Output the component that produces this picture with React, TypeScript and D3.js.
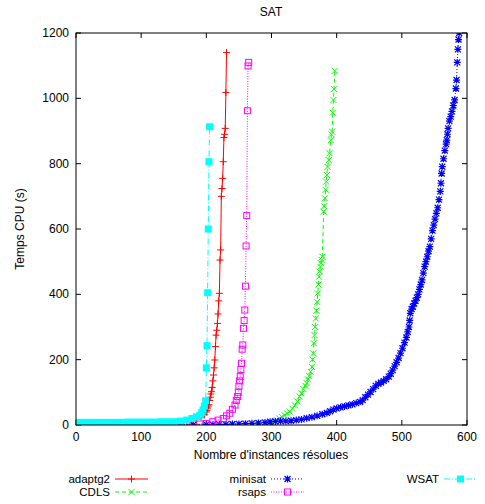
import React from "react";
import * as d3 from "d3";

const title = "SAT";
const xLabel = "Nombre d'instances résolues";
const yLabel = "Temps CPU (s)";
const xTicks = [0, 100, 200, 300, 400, 500, 600];
const yTicks = [0, 200, 400, 600, 800, 1000, 1200];

const adaptg2: [number, number][] = [
  [0, 1], [15, 1], [30, 1.5], [45, 2], [60, 2], [75, 2.5], [90, 3], [105, 3], [120, 3.5], [135, 4],
  [150, 5], [160, 6], [170, 8], [178, 11], [185, 17], [192, 24], [197, 31], [200, 40], [201, 45],
  [202, 52], [203, 58], [204, 62], [205, 75], [206, 85], [207, 95], [208, 102], [209, 115], [210, 135],
  [211, 153], [212, 175], [213, 199], [214, 240], [215, 275], [216, 290], [217, 311], [218, 340],
  [219, 380], [220, 403], [221, 505], [222, 536], [223, 700], [224, 724], [225, 755], [226, 806],
  [227, 880], [228, 890], [229, 908], [230, 1018], [231, 1140],
];

const cdls: [number, number][] = [
  [0, 1], [20, 1], [40, 1], [60, 1], [80, 1], [100, 1], [120, 1], [140, 1], [160, 1], [180, 1.5],
  [200, 2], [220, 2], [240, 2.5], [260, 3], [280, 3.5], [292, 4], [300, 5], [305, 10], [308, 15],
  [312, 20], [316, 25], [320, 30], [324, 35], [328, 41], [332, 50], [336, 60], [340, 72], [343, 87],
  [346, 97], [349, 110], [352, 120], [354, 128], [356, 140], [358, 150], [360, 163], [362, 178],
  [363, 200], [364, 219], [365, 250], [366, 275], [367, 300], [368, 326], [369, 350], [370, 377],
  [371, 403], [372, 430], [373, 454], [374, 470], [375, 484], [376, 495], [377, 505], [378, 515],
  [380, 653], [381, 670], [382, 694], [383, 720], [384, 745], [385, 765], [386, 790], [388, 811],
  [389, 832], [391, 872], [392, 890], [393, 898], [394, 956], [395, 995], [396, 1028], [397, 1084],
];

const minisat: [number, number][] = [
  [0, 0.5], [20, 0.5], [40, 0.5], [60, 0.5], [80, 0.5], [100, 0.5], [120, 0.5], [140, 0.5], [160, 0.5],
  [180, 0.5], [200, 1], [210, 1], [220, 2], [230, 2], [240, 3], [250, 3], [260, 4], [270, 5], [280, 6],
  [290, 8], [298, 10], [306, 11], [314, 12], [322, 12], [330, 13], [338, 15], [346, 17], [354, 21],
  [362, 24], [370, 28], [378, 33], [385, 37], [390, 42], [395, 47], [400, 51], [406, 54], [412, 57],
  [418, 60], [424, 63], [430, 67], [436, 71], [440, 76], [444, 85], [448, 93], [452, 101], [456, 110],
  [460, 120], [464, 126], [468, 130], [472, 135], [476, 140], [480, 148], [483, 157], [486, 168],
  [489, 180], [492, 192], [495, 205], [498, 220], [501, 235], [504, 252], [507, 268], [509, 285],
  [511, 300], [512, 320], [513, 342], [515, 355], [517, 362], [519, 372], [521, 380], [523, 390],
  [525, 400], [527, 415], [529, 430], [531, 444], [533, 465], [535, 485], [537, 500], [539, 515],
  [541, 532], [543, 546], [545, 570], [547, 595], [549, 612], [551, 630], [553, 648], [555, 665],
  [557, 690], [559, 715], [560, 740], [561, 770], [562, 791], [564, 815], [566, 840], [568, 860],
  [569, 872], [570, 890], [571, 908], [573, 930], [575, 944], [577, 960], [579, 978], [581, 995],
  [583, 1030], [584, 1056], [585, 1110], [586, 1150], [587, 1180], [588, 1200], [589, 1215],
];

const rsaps: [number, number][] = [
  [0, 0.1], [15, 0.1], [30, 0.1], [45, 0.1], [60, 0.1], [75, 0.2], [90, 0.2], [105, 0.3], [120, 0.3],
  [135, 0.5], [150, 0.5], [160, 1], [170, 1], [180, 2], [190, 3], [200, 5], [210, 10], [218, 15],
  [226, 20], [231, 28], [236, 36], [240, 48], [244, 61], [246, 75], [248, 87], [249, 100], [250, 119],
  [251, 135], [252, 148], [253, 170], [254, 189], [255, 232], [256, 245], [257, 296], [258, 320],
  [259, 352], [260, 425], [261, 548], [262, 641], [263, 962], [264, 1099], [265, 1110],
];

const wsat: [number, number][] = [
  [0, 8], [10, 8], [20, 8], [30, 8], [40, 8], [50, 8], [60, 8], [70, 8], [80, 9], [90, 9], [100, 9],
  [110, 9], [120, 9], [130, 10], [140, 10], [150, 10], [160, 12], [170, 15], [178, 20], [185, 25],
  [190, 30], [193, 38], [195, 46], [197, 58], [199, 74], [200, 175], [201, 243], [202, 405],
  [203, 600], [204, 806], [205, 913],
];

const seriesNames = ["adaptg2", "CDLS", "minisat", "rsaps", "WSAT"];
const seriesData = [adaptg2, cdls, minisat, rsaps, wsat];
const seriesColors = ["#ff0000", "#00ff00", "#0000ff", "#ff00ff", "#00ffff"];
const seriesDash = ["none", "4,3", "1,2", "1,1.5", "6,2,1,2"];
const seriesMarker = ["plus", "cross", "star", "box", "fbox"];

const W = 485, H = 504;
const m = { left: 76, right: 467, top: 33, bottom: 425 };
const FONT = "'Liberation Sans', Arial, Helvetica, sans-serif";

function Marker({ type, x, y, color }: { type: string; x: number; y: number; color: string }) {
  const s = 3.5;
  if (type === "plus")
    return <path d={`M${x - s},${y}H${x + s}M${x},${y - s}V${y + s}`} stroke={color} strokeWidth={1} fill="none" />;
  if (type === "cross")
    return <path d={`M${x - 3},${y - 3}L${x + 3},${y + 3}M${x - 3},${y + 3}L${x + 3},${y - 3}`} stroke={color} strokeWidth={1} fill="none" />;
  if (type === "star")
    return <path d={`M${x - s},${y}H${x + s}M${x},${y - s}V${y + s}M${x - 3},${y - 3}L${x + 3},${y + 3}M${x - 3},${y + 3}L${x + 3},${y - 3}`} stroke={color} strokeWidth={1.2} fill="none" />;
  if (type === "box")
    return <rect x={x - 3} y={y - 3} width={6} height={6} stroke={color} strokeWidth={1} fill="none" />;
  return <rect x={x - 3.5} y={y - 3.5} width={7} height={7} fill={color} />;
}

export default function App() {
  const x = d3.scaleLinear().domain([0, 600]).range([m.left, m.right]);
  const y = d3.scaleLinear().domain([0, 1200]).range([m.bottom, m.top]);
  const line = d3.line<[number, number]>().x((d) => x(d[0])).y((d) => y(d[1]));
  const legendPos = [
    { tx: 110, ly: 479 },
    { tx: 110, ly: 492 },
    { tx: 266, ly: 479 },
    { tx: 266, ly: 492 },
    { tx: 439, ly: 479 },
  ];
  return (
    <svg width={W} height={H} style={{ position: "absolute", left: 0, top: 0, background: "#fff" }} fontFamily={FONT} fontSize={12}>
      <defs>
        <clipPath id="plot">
          <rect x={m.left} y={m.top} width={m.right - m.left} height={m.bottom - m.top} />
        </clipPath>
      </defs>
      <rect x={0} y={0} width={W} height={H} fill="#fff" />
      <text x={271} y={16} textAnchor="middle" fill="#000">{title}</text>
      {yTicks.map((t) => (
        <g key={"y" + t}>
          <line x1={m.left} x2={m.left + 5} y1={y(t)} y2={y(t)} stroke="#000" />
          <line x1={m.right} x2={m.right - 5} y1={y(t)} y2={y(t)} stroke="#000" />
          <text x={69} y={y(t) + 4} textAnchor="end" fill="#000">{t}</text>
        </g>
      ))}
      {xTicks.map((t) => (
        <g key={"x" + t}>
          <line x1={x(t)} x2={x(t)} y1={m.bottom} y2={m.bottom - 5} stroke="#000" />
          <line x1={x(t)} x2={x(t)} y1={m.top} y2={m.top + 5} stroke="#000" />
          <text x={x(t)} y={441} textAnchor="middle" fill="#000">{t}</text>
        </g>
      ))}
      <text x={271} y={459} textAnchor="middle" fill="#000">{xLabel}</text>
      <text transform={`translate(24,229) rotate(-90)`} textAnchor="middle" fill="#000">{yLabel}</text>
      <g clipPath="url(#plot)">
        {seriesData.map((data, i) => (
          <g key={seriesNames[i]}>
            <path d={line(data) || ""} fill="none" stroke={seriesColors[i]} strokeWidth={1} strokeDasharray={seriesDash[i]} />
            {data.map((d, j) => (
              <Marker key={j} type={seriesMarker[i]} x={x(d[0])} y={y(d[1])} color={seriesColors[i]} />
            ))}
          </g>
        ))}
      </g>
      <rect x={m.left} y={m.top} width={m.right - m.left} height={m.bottom - m.top} fill="none" stroke="#000" strokeWidth={1} />
      {seriesNames.map((n, i) => {
        const p = legendPos[i];
        const lx1 = p.tx + 5, lx2 = p.tx + 38;
        return (
          <g key={"lg" + n}>
            <text x={p.tx} y={p.ly + 4} textAnchor="end" fill="#000" fontSize={11.5}>{n}</text>
            <line x1={lx1} x2={lx2} y1={p.ly} y2={p.ly} stroke={seriesColors[i]} strokeDasharray={seriesDash[i]} />
            <Marker type={seriesMarker[i]} x={(lx1 + lx2) / 2} y={p.ly} color={seriesColors[i]} />
          </g>
        );
      })}
    </svg>
  );
}
